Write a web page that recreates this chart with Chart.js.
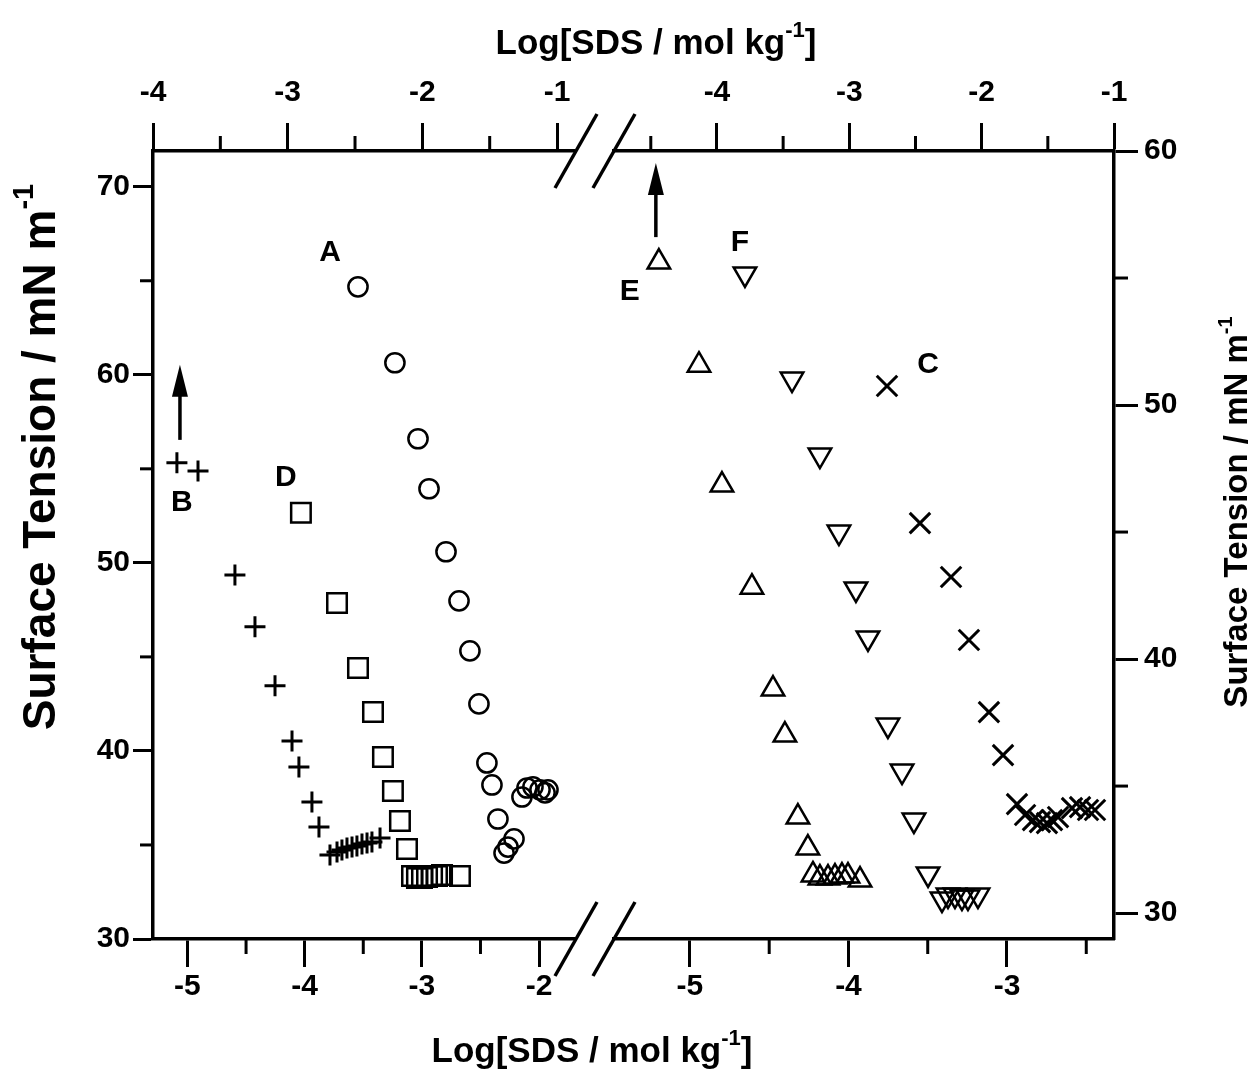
<!DOCTYPE html>
<html>
<head>
<meta charset="utf-8">
<title>Surface tension vs log[SDS]</title>
<script src="https://cdn.jsdelivr.net/npm/chart.js@4.4.1/dist/chart.umd.min.js"></script>
<style>
  html, body { margin: 0; padding: 0; background: #fff; }
  #wrap { width: 1255px; height: 1084px; }
</style>
</head>
<body>
<div id="wrap"><canvas id="chart" width="1255" height="1084"></canvas></div>
<script>
// labelled tick values on each axis
const bottomLeftTicks = [-5, -4, -3, -2];
const topLeftTicks = [-4, -3, -2, -1];
const bottomRightTicks = [-5, -4, -3];
const topRightTicks = [-4, -3, -2, -1];
const leftYTicks = [30, 40, 50, 60, 70];
const rightYTicks = [30, 40, 50, 60];

// left panel: A (circles), B (plus), D (squares)
const logA = [-3.545, -3.230, -3.033, -2.939, -2.794, -2.683, -2.590, -2.513, -2.445, -2.402, -2.351, -2.214, -2.265, -2.299, -2.146, -2.103, -2.052, -1.992, -1.949, -1.924];
const gammaA = [64.68, 60.64, 56.60, 53.94, 50.59, 47.98, 45.32, 42.50, 39.36, 38.19, 36.38, 35.32, 34.89, 34.57, 37.55, 38.03, 38.09, 37.93, 37.77, 37.93];

const logB = [-5.090, -4.910, -4.595, -4.424, -4.253, -4.108, -4.049, -3.938, -3.878, -3.784, -3.724, -3.682, -3.639, -3.596, -3.554, -3.511, -3.468, -3.426, -3.357];
const gammaB = [55.32, 54.89, 49.36, 46.60, 43.46, 40.53, 39.15, 37.29, 35.96, 34.47, 34.63, 34.73, 34.84, 34.89, 34.95, 35.05, 35.11, 35.16, 35.37];

const logD = [-4.032, -3.724, -3.545, -3.417, -3.332, -3.247, -3.187, -3.127, -3.084, -3.042, -2.999, -2.956, -2.913, -2.871, -2.828, -2.675];
const gammaD = [52.66, 47.87, 44.41, 42.07, 39.68, 37.87, 36.28, 34.79, 33.35, 33.24, 33.24, 33.30, 33.35, 33.35, 33.40, 33.35];

// right panel: E (up triangles), F (down triangles), C (crosses)
const logE = [-5.196, -4.943, -4.798, -4.609, -4.476, -4.401, -4.319, -4.256, -4.224, -4.180, -4.129, -4.085, -4.041, -4.003, -3.927];
const gammaE = [55.63, 51.57, 46.85, 42.83, 38.82, 37.01, 33.78, 32.56, 31.50, 31.38, 31.38, 31.42, 31.46, 31.46, 31.30];

const logF = [-4.653, -4.356, -4.180, -4.060, -3.953, -3.877, -3.751, -3.662, -3.587, -3.498, -3.410, -3.372, -3.328, -3.284, -3.246, -3.183];
const gammaF = [55.16, 51.02, 48.03, 45.00, 42.76, 40.83, 37.40, 35.59, 33.66, 31.54, 30.55, 30.71, 30.71, 30.63, 30.63, 30.71];

const logC = [-3.757, -3.549, -3.353, -3.240, -3.114, -3.025, -2.937, -2.886, -2.836, -2.792, -2.748, -2.716, -2.678, -2.590, -2.539, -2.489, -2.445];
const gammaC = [50.75, 45.35, 43.23, 40.75, 37.91, 36.22, 34.29, 33.86, 33.66, 33.58, 33.54, 33.66, 33.78, 34.13, 34.17, 34.06, 34.06];

const FONT = '"Liberation Sans", Arial, sans-serif';

const pts = (xs, ys) => xs.map((x, i) => ({x: x, y: ys[i]}));
const isWhole = (v, step) => Math.abs(v / step - Math.round(v / step)) < 1e-6;

// axis widths around the plot
const fixW = w => scale => { scale.width = w; };
const fixH = h => scale => { scale.height = h; };

function xAxis(pos, min, max, labels, weight, h) {
  return {
    type: 'linear', position: pos, min: min, max: max,
    stack: 'brk', stackWeight: weight,
    afterFit: fixH(h),
    border: {display: true, color: '#000', width: 3.5},
    grid: {
      drawOnChartArea: false, drawTicks: true, tickLength: 28, tickWidth: 3,
      tickColor: c => isWhole(c.tick.value, 1) ? '#000' : 'rgba(0,0,0,0)'
    },
    ticks: {
      stepSize: 0.5, includeBounds: false, autoSkip: false, maxRotation: 0,
      padding: pos === 'top' ? 12 : 2, color: '#000',
      font: {family: FONT, size: 30, weight: 'bold'},
      callback: v => labels.some(t => Math.abs(t - v) < 1e-6) ? String(Math.round(v)) : ''
    }
  };
}

function gapAxis(pos, h) {
  return {
    type: 'linear', position: pos, min: 0, max: 1, display: false,
    stack: 'brk', stackWeight: 40, afterFit: fixH(h)
  };
}

function yAxis(pos, min, max, labels, w) {
  return {
    type: 'linear', position: pos, min: min, max: max,
    afterFit: fixW(w),
    border: {display: true, color: '#000', width: 3.5},
    grid: {
      drawOnChartArea: false, drawTicks: true, tickLength: pos === 'left' ? 20 : 24, tickWidth: 3,
      tickColor: c => isWhole(c.tick.value, 10) ? '#000' : 'rgba(0,0,0,0)'
    },
    ticks: {
      stepSize: 5, includeBounds: false, autoSkip: false,
      padding: pos === 'left' ? 3 : 6, color: '#000',
      font: {family: FONT, size: 30, weight: 'bold'},
      callback: v => labels.includes(v) ? String(v) : ''
    }
  };
}

// short ticks at the half steps
const minorTicks = {
  id: 'minorTicks',
  afterDraw(chart) {
    const ctx = chart.ctx;
    const major = {xBL: 1, xTL: 1, xBR: 1, xTR: 1, yL: 10, yR: 10};
    ctx.save();
    ctx.strokeStyle = '#000';
    ctx.lineWidth = 3;
    Object.keys(major).forEach(id => {
      const s = chart.scales[id];
      s.ticks.forEach(t => {
        if (isWhole(t.value, major[id])) return;
        const p = s.getPixelForValue(t.value);
        ctx.beginPath();
        if (s.position === 'bottom') { ctx.moveTo(p, s.top); ctx.lineTo(p, s.top + 15); }
        else if (s.position === 'top') { ctx.moveTo(p, s.bottom); ctx.lineTo(p, s.bottom - 15); }
        else if (s.position === 'left') { ctx.moveTo(s.right, p); ctx.lineTo(s.right - 13, p); }
        else { ctx.moveTo(s.left, p); ctx.lineTo(s.left + 14, p); }
        ctx.stroke();
      });
    });
    ctx.restore();
  }
};

function supText(ctx, cx, cy, rot, size, main, sup, tail) {
  const big = 'bold ' + size + 'px ' + FONT;
  const small = 'bold ' + Math.round(size * 0.62) + 'px ' + FONT;
  ctx.save();
  ctx.translate(cx, cy);
  ctx.rotate(rot);
  ctx.fillStyle = '#000';
  ctx.textBaseline = 'middle';
  ctx.textAlign = 'left';
  ctx.font = big;
  const w1 = ctx.measureText(main).width;
  const w3 = tail ? ctx.measureText(tail).width : 0;
  ctx.font = small;
  const w2 = ctx.measureText(sup).width;
  let x = -(w1 + w2 + w3) / 2;
  ctx.font = big; ctx.fillText(main, x, 0); x += w1;
  ctx.font = small; ctx.fillText(sup, x, -size * 0.36); x += w2;
  if (tail) { ctx.font = big; ctx.fillText(tail, x, 0); }
  ctx.restore();
}

function arrowUp(ctx, x, y0, y1) {
  ctx.beginPath();
  ctx.moveTo(x, y0); ctx.lineTo(x, y1 + 26);
  ctx.stroke();
  ctx.beginPath();
  ctx.moveTo(x, y1); ctx.lineTo(x - 8, y1 + 32); ctx.lineTo(x + 8, y1 + 32);
  ctx.closePath();
  ctx.fill();
}

// titles, series letters, arrows and axis break marks
const decorations = {
  id: 'decorations',
  afterDraw(chart) {
    const ctx = chart.ctx;
    const s = chart.scales;
    const area = chart.chartArea;

    supText(ctx, 656, 44, 0, 35, 'Log[SDS / mol kg', '-1', ']');
    supText(ctx, 592, 1052, 0, 35, 'Log[SDS / mol kg', '-1', ']');
    supText(ctx, 42, 457, -Math.PI / 2, 46, 'Surface Tension / mN m', '-1');
    supText(ctx, 1238, 512, -Math.PI / 2, 33, 'Surface Tension / mN m', '-1');

    ctx.save();
    ctx.fillStyle = '#000';
    ctx.font = 'bold 30px ' + FONT;
    ctx.textAlign = 'center';
    ctx.textBaseline = 'middle';
    const tag = (t, xs, ys, x, y) => ctx.fillText(t, xs.getPixelForValue(x), ys.getPixelForValue(y));
    tag('A', s.xBL, s.yL, -3.784, 66.49);
    tag('B', s.xBL, s.yL, -5.047, 53.19);
    tag('D', s.xBL, s.yL, -4.160, 54.52);
    tag('E', s.xBR, s.yR, -5.379, 54.45);
    tag('F', s.xBR, s.yR, -4.685, 56.38);
    tag('C', s.xBR, s.yR, -3.498, 51.57);

    ctx.strokeStyle = '#000';
    ctx.lineWidth = 3.5;
    arrowUp(ctx, s.xBL.getPixelForValue(-5.064), s.yL.getPixelForValue(56.54), s.yL.getPixelForValue(60.53));
    arrowUp(ctx, s.xBR.getPixelForValue(-5.215), s.yR.getPixelForValue(56.61), s.yR.getPixelForValue(59.53));

    // double slashes across the broken x axes
    const slash = (x, y) => {
      ctx.beginPath();
      ctx.moveTo(x - 21, y + 37); ctx.lineTo(x + 21, y - 37);
      ctx.stroke();
    };
    slash(s.xTL.right + 2, area.top);
    slash(s.xTR.left, area.top);
    slash(s.xBL.right + 2, area.bottom);
    slash(s.xBR.left, area.bottom);
    ctx.restore();
  }
};

const hollow = 'rgba(0,0,0,0)';

new Chart(document.getElementById('chart'), {
  type: 'scatter',
  data: {
    datasets: [
      {label: 'A', data: pts(logA, gammaA), xAxisID: 'xBL', yAxisID: 'yL',
       pointStyle: 'circle', pointRadius: 9.6, borderWidth: 2.5, borderColor: '#000', backgroundColor: hollow},
      {label: 'B', data: pts(logB, gammaB), xAxisID: 'xBL', yAxisID: 'yL',
       pointStyle: 'cross', pointRadius: 10.5, borderWidth: 3, borderColor: '#000', backgroundColor: hollow},
      {label: 'D', data: pts(logD, gammaD), xAxisID: 'xBL', yAxisID: 'yL',
       pointStyle: 'rect', pointRadius: 13.8, borderWidth: 2.5, borderColor: '#000', backgroundColor: hollow},
      {label: 'E', data: pts(logE, gammaE), xAxisID: 'xBR', yAxisID: 'yR',
       pointStyle: 'triangle', pointRadius: 13, borderWidth: 2.5, borderColor: '#000', backgroundColor: hollow},
      {label: 'F', data: pts(logF, gammaF), xAxisID: 'xBR', yAxisID: 'yR',
       pointStyle: 'triangle', pointRotation: 180, pointRadius: 13, borderWidth: 2.5, borderColor: '#000', backgroundColor: hollow},
      {label: 'C', data: pts(logC, gammaC), xAxisID: 'xBR', yAxisID: 'yR',
       pointStyle: 'crossRot', pointRadius: 14.5, borderWidth: 3, borderColor: '#000', backgroundColor: hollow}
    ]
  },
  options: {
    responsive: false,
    animation: false,
    devicePixelRatio: 1,
    layout: {padding: 0},
    plugins: {legend: {display: false}, tooltip: {enabled: false}},
    scales: {
      yL: yAxis('left', 30, 71.9, leftYTicks, 153),
      yR: yAxis('right', 28.98, 60, rightYTicks, 141),
      xBL: xAxis('bottom', -5.294, -1.702, bottomLeftTicks, 421, 145),
      xBG: gapAxis('bottom', 145),
      xBR: xAxis('bottom', -5.479, -2.325, bottomRightTicks, 500, 145),
      // top boxes are laid out in reverse order, so the right part comes first
      xTR: xAxis('top', -4.778, -1.0, topRightTicks, 500, 151),
      xTG: gapAxis('top', 151),
      xTL: xAxis('top', -4.0, -0.874, topLeftTicks, 421, 151)
    }
  },
  plugins: [minorTicks, decorations]
});
</script>
</body>
</html>
